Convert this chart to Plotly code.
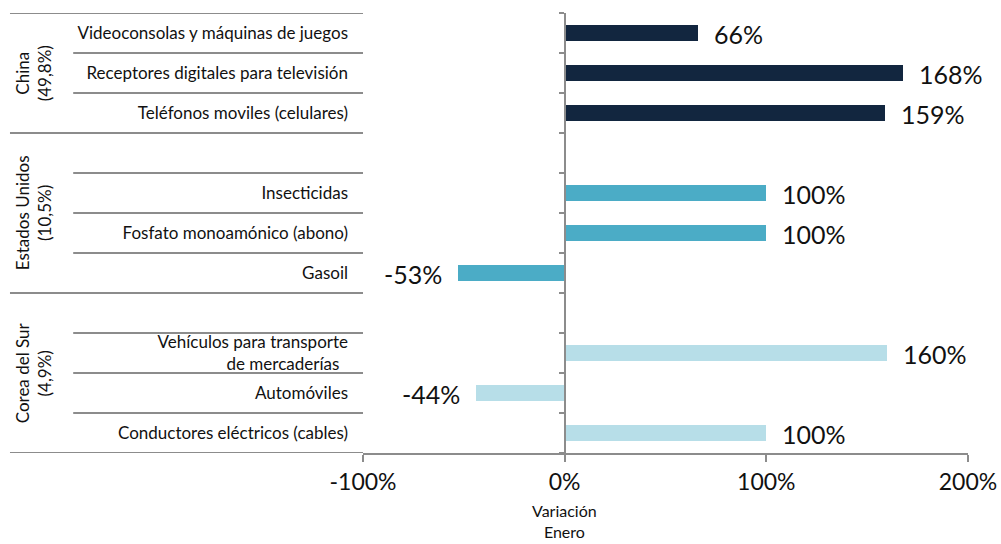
import plotly.graph_objects as go

# ── datos ────────────────────────────────────────────────────────────────
paises = ["China", "Estados Unidos", "Corea del Sur"]
participacion = ["49,8%", "10,5%", "4,9%"]
colores = ["#12263F", "#4BACC6", "#B7DEE8"]

productos = [
    ["Videoconsolas y máquinas de juegos",
     "Receptores digitales para televisión",
     "Teléfonos moviles (celulares)"],
    ["Insecticidas",
     "Fosfato monoamónico (abono)",
     "Gasoil"],
    ["Vehículos para transporte<br>de mercaderías\u00a0\u00a0",
     "Automóviles",
     "Conductores eléctricos (cables)"],
]
variacion = [
    [66, 168, 159],
    [100, 100, -53],
    [160, -44, 100],
]

x_ticks = [-100, 0, 100, 200]
x_ticktext = ["-100%", "0%", "100%", "200%"]

GRIS = "#8C8C8C"
FONT = "Lato, Open Sans, sans-serif"

# ── filas: cada país después del primero lleva una fila vacía arriba ───
fig = go.Figure()
tickvals, ticktext = [], []
grupos = []  # (inicio, fin) en unidades de fila
fila = 0
for g, pais in enumerate(paises):
    inicio = fila
    if g > 0:
        fila += 1
    ys = []
    for p in productos[g]:
        ys.append(fila)
        tickvals.append(fila)
        ticktext.append(p)
        fila += 1
    grupos.append((inicio, fila))
    fig.add_trace(go.Bar(
        x=variacion[g], y=ys, orientation="h",
        marker=dict(color=colores[g], line=dict(width=0)),
        width=0.42, name=pais, hoverinfo="x+y",
    ))
    for v, y in zip(variacion[g], ys):
        fig.add_annotation(
            x=v, y=y, text=f"{v}%", showarrow=False,
            xanchor="left" if v >= 0 else "right",
            xshift=14 if v >= 0 else -14, yshift=-1,
            font=dict(size=25, color="#111", family=FONT),
        )
n_filas = fila

# ── separadores de la zona de etiquetas ──────────────────────────────────
X_LARGO, X_CORTO = -0.5835, -0.479
limites_grupo = {g[0] - 0.5 for g in grupos} | {n_filas - 0.5}
for b in range(n_filas + 1):
    yb = b - 0.5
    x0 = X_LARGO if yb in limites_grupo else X_CORTO
    fig.add_shape(type="line", xref="paper", yref="y", x0=x0, x1=0,
                  y0=yb, y1=yb, line=dict(color=GRIS, width=2))

# etiquetas de país (rotadas)
for g, pais in enumerate(paises):
    a, b = grupos[g]
    fig.add_annotation(
        xref="paper", yref="y", x=-0.545, y=(a + b - 1) / 2,
        xanchor="center", yanchor="middle",
        text=f"{pais}<br>({participacion[g]})", textangle=-90,
        showarrow=False, font=dict(size=17, color="#111", family=FONT),
    )

# título eje x
fig.add_annotation(
    x=0, xref="x", yref="paper", y=-0.105, yanchor="top",
    text="Variación<br>Enero", showarrow=False,
    font=dict(size=16, color="#111", family=FONT),
)

# eje auxiliar: línea vertical en 0% con marcas en los límites de fila
fig.add_trace(go.Scatter(x=[None], y=[None], yaxis="y2", showlegend=False,
                         hoverinfo="skip"))

fig.update_layout(
    width=1001, height=544,
    paper_bgcolor="white", plot_bgcolor="white",
    font=dict(family=FONT, color="#111"),
    margin=dict(l=363, r=33, t=13, b=91, autoexpand=False),
    showlegend=False, bargap=0,
    xaxis=dict(
        range=[-100, 200], tickvals=x_ticks, ticktext=x_ticktext,
        showgrid=False, zeroline=False, automargin=False,
        showline=True, linecolor=GRIS, linewidth=2,
        ticks="outside", ticklen=7, tickwidth=2, tickcolor=GRIS,
        tickfont=dict(size=23, color="#111"),
    ),
    yaxis=dict(
        range=[n_filas - 0.5, -0.5], tickvals=tickvals, ticktext=ticktext,
        showgrid=False, zeroline=False, showline=False, ticks="",
        automargin=False,
        tickfont=dict(size=17, color="#111"), ticklabelstandoff=14,
    ),
    yaxis2=dict(
        overlaying="y", anchor="free", position=1 / 3, side="left",
        range=[n_filas - 0.5, -0.5], automargin=False,
        tickvals=[b - 0.5 for b in range(n_filas + 1)],
        showticklabels=False, showgrid=False, zeroline=False,
        showline=True, linecolor=GRIS, linewidth=2,
        ticks="outside", ticklen=5, tickwidth=2, tickcolor=GRIS,
    ),
)

fig.write_html(
    "out.html",
    config={"displayModeBar": False},
    post_script="document.body.style.margin='0';",
)
